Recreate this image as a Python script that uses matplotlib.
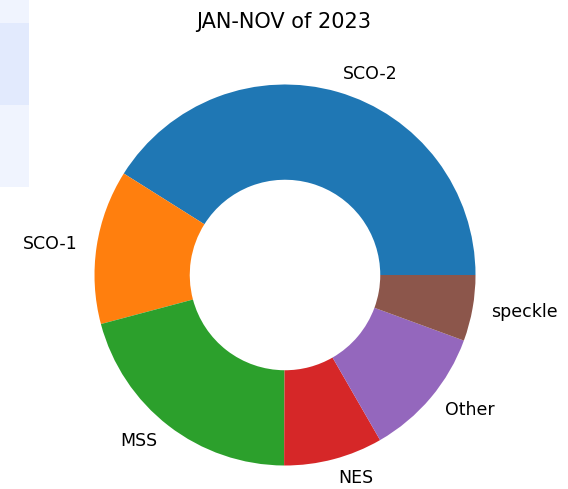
import matplotlib
matplotlib.use("Agg")
import matplotlib.pyplot as plt
from matplotlib.patches import Rectangle

# Share of cases by category, Jan-Nov 2023 (percent)
categories = ["SCO-2", "SCO-1", "MSS", "NES", "Other", "speckle"]
shares = [41.1, 13.1, 20.8, 8.4, 11.1, 5.6]
title = "JAN-NOV of 2023"

W, H, DPI = 568, 489, 125
fig = plt.figure(figsize=(W / DPI, H / DPI), dpi=DPI)

# pale panel strip along the left edge
for y0, y1, col in [(0, 23, "#f0f4fe"), (23, 105, "#e2eafd"), (105, 187, "#f0f4fe")]:
    fig.patches.append(Rectangle((0, 1 - y1 / H), 29 / W, (y1 - y0) / H,
                                 transform=fig.transFigure, facecolor=col,
                                 edgecolor="none", zorder=0))

# donut axes: centre at (285, 275) px from top-left, radius ~190 px
cx, cy, r = 285, 275, 190.5
half = 1.25 * r
ax = fig.add_axes([(cx - half) / W, (H - cy - half) / H, 2 * half / W, 2 * half / H])
ax.pie(shares, labels=categories, wedgeprops=dict(width=0.5),
       textprops=dict(fontsize=10))
ax.set_xlim(-1.25, 1.25)
ax.set_ylim(-1.25, 1.25)
ax.set_aspect("equal")
ax.axis("off")

fig.text(283.5 / W, 1 - 28.5 / H, title, ha="center", va="baseline", fontsize=12)

fig.savefig("out.png", dpi=DPI)
